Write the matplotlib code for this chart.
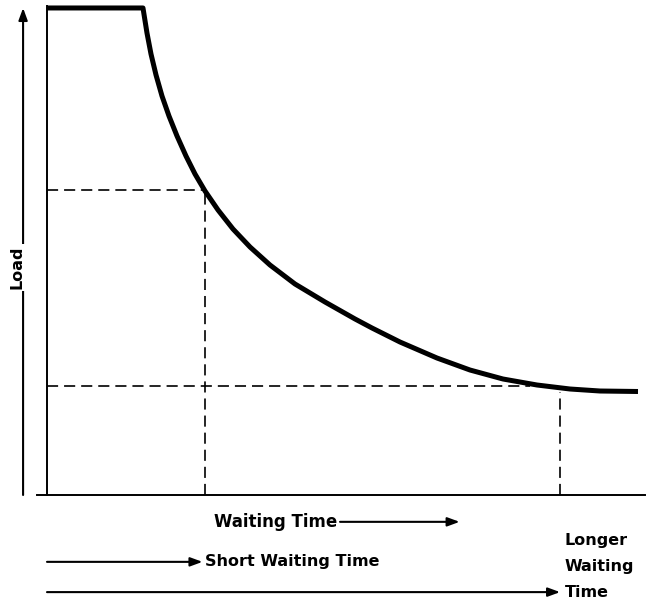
import matplotlib.pyplot as plt

# load vs waiting time curve (arbitrary units 0-100)
wait_time = [0, 16.05, 16.72, 17.39, 18.23, 19.23, 20.40, 21.74, 23.24, 24.75,
             26.42, 28.60, 31.10, 33.95, 37.29, 41.47, 46.49, 51.51, 54.35,
             59.03, 65.22, 70.74, 76.25, 81.94, 87.46, 92.47, 98.83]
load = [99.8, 99.8, 94.67, 90.37, 86.07, 81.76, 77.66, 73.57, 69.47, 65.78,
        62.30, 58.40, 54.51, 50.82, 47.13, 43.24, 39.55, 36.07, 34.22,
        31.35, 28.07, 25.61, 23.77, 22.54, 21.72, 21.31, 21.21]

short_wait = 26.4
short_load = 62.5
long_wait = 85.8
long_load = 22.3
long_curve_x = 80.8   # where the long dashed line meets the curve
long_curve_y = 21.1

label_load = 'Load'
label_wait = 'Waiting Time'
label_short = 'Short Waiting Time'
label_long = ['Longer', 'Waiting', 'Time']

plt.rcParams['font.family'] = ['DejaVu Sans']
plt.rcParams['lines.scale_dashes'] = False

fig = plt.figure(figsize=(6.49, 6.02), dpi=100)
ax = fig.add_axes([47 / 649, 107 / 602, 598 / 649, 488 / 602])
ax.set_xlim(0, 100)
ax.set_ylim(0, 100)
ax.axis('off')

dash = (0, (8.0, 4.3))
ink = 'black'
fs = 11.5

# frame: left axis and baseline
ax.plot([0, 0], [0, 100.2], color=ink, lw=1.4, clip_on=False)
ax.plot([-1.7, 100], [0, 0], color=ink, lw=1.4, clip_on=False)

# main curve
ax.plot(wait_time, load, color=ink, lw=3.6, clip_on=False,
        solid_joinstyle='round', solid_capstyle='butt')

# reference lines
ax.plot([0, short_wait], [short_load, short_load], color=ink, lw=1.2, linestyle=dash)
ax.plot([short_wait, short_wait], [0, short_load], color=ink, lw=1.2, linestyle=dash)
ax.plot([0, long_curve_x], [long_load, long_load], color=ink, lw=1.2, linestyle=dash)
ax.plot([long_wait, long_wait], [0, long_curve_y], color=ink, lw=1.2, linestyle=dash)

arrow = dict(arrowstyle='-|>,head_length=0.6,head_width=0.22', mutation_scale=12,
             lw=1.5, color=ink, shrinkA=0, shrinkB=0)

# vertical Load arrow
ax.annotate('', xy=(-4.0, 99.8), xytext=(-4.0, 0), arrowprops=arrow,
            annotation_clip=False)
ax.text(-5.0, 46.6, label_load, rotation=90, ha='center', va='center',
        fontsize=fs, fontweight='bold',
        bbox=dict(facecolor='white', edgecolor='none', pad=1.5))

# Waiting Time arrow
ax.text(48.5, -5.5, label_wait, ha='right', va='center', fontsize=fs + 0.5,
        fontweight='bold')
ax.annotate('', xy=(69, -5.5), xytext=(49, -5.5), arrowprops=arrow,
            annotation_clip=False)

# short waiting time
ax.annotate('', xy=(short_wait - 0.4, -13.7), xytext=(0, -13.7), arrowprops=arrow,
            annotation_clip=False)
ax.text(short_wait, -13.7, label_short, ha='left', va='center', fontsize=fs,
        fontweight='bold')

# longer waiting time
ax.annotate('', xy=(long_wait, -19.9), xytext=(0, -19.9), arrowprops=arrow,
            annotation_clip=False)
for txt, yy in zip(label_long, [-9.4, -14.7, -19.9]):
    ax.text(long_wait + 0.8, yy, txt, ha='left', va='center', fontsize=fs,
            fontweight='bold')

fig.savefig('out.png', dpi=100)
